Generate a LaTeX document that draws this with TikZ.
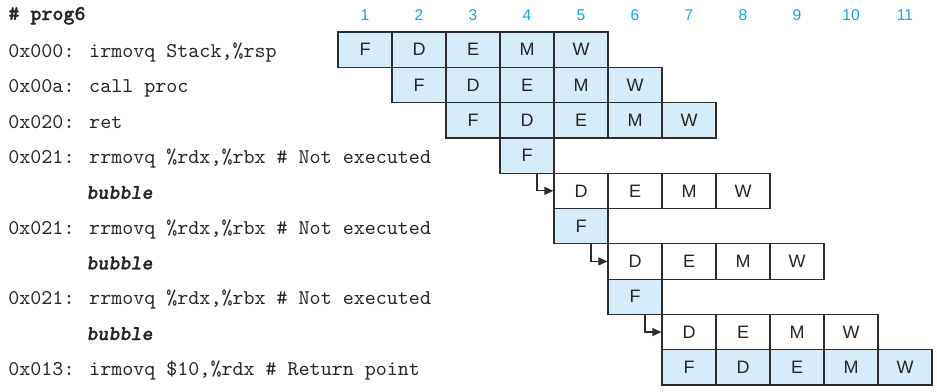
\documentclass[tikz,border=0pt]{standalone}
\usepackage{fontspec}
\setsansfont{Liberation Sans}
\newfontfamily\heavytt{lmmonolt10-bold.otf}[FakeBold=1.2]
\newfontfamily\heavyitt{lmmonolt10-boldoblique.otf}[FakeBold=1.2]
\usetikzlibrary{arrows.meta}
\definecolor{stagefill}{RGB}{214,236,249}
\definecolor{cyclecol}{RGB}{20,165,225}
\definecolor{linecol}{RGB}{45,45,45}
\tikzset{
  cell/.style={draw=linecol, line width=0.6pt, minimum width=27pt, minimum height=17.65pt,
    inner sep=0pt, font=\sffamily\fontsize{9}{10}\selectfont, text=black!85},
  bluecell/.style={cell, fill=stagefill},
  whitecell/.style={cell, fill=white},
  code/.style={anchor=base west, inner sep=0pt, font=\ttfamily\fontsize{10.5}{12}\selectfont, text=black!85},
  cyclenum/.style={anchor=base, inner sep=0pt, font=\sffamily\fontsize{7.8}{9}\selectfont, text=cyclecol},
  arr/.style={draw=linecol, line width=0.6pt, -{Triangle[length=4.5pt,width=4pt]}}
}
\newcommand\pipeRow[4]{%
  \foreach \L [count=\k] in {#4} {%
    \pgfmathtruncatemacro\cc{#2+\k-1}%
    \node[#3] (r#1c\cc) at ({338+(\cc-1)*54+27},{32+(#1-1)*35.3+17.65}) {\L};
  }%
}
\begin{document}
\begin{tikzpicture}[x=0.5pt,y=-0.5pt]
\useasboundingbox (0,0) rectangle (937,391);
% cycle numbers
\foreach \c in {1,...,11} {
  \node[cyclenum] (n\c) at ({338+(\c-1)*54+27},20) {\c};
}
% code lines
\node[code] (hdr) at (8,20) {{\heavytt\fontsize{10.5}{12}\selectfont \# prog6}};
\node[code] (t1) at (8,{32+0*35.3+17.65+8}) {0x000: irmovq Stack,\%rsp};
\node[code] (t2) at (8,{32+1*35.3+17.65+8}) {0x00a: call proc};
\node[code] (t3) at (8,{32+2*35.3+17.65+8}) {0x020: ret};
\node[code] (t4) at (8,{32+3*35.3+17.65+8}) {0x021: rrmovq \%rdx,\%rbx \# Not executed};
\node[code] (t5) at (86,{32+4*35.3+17.65+8}) {{\heavyitt\fontsize{10.5}{12}\selectfont bubble}};
\node[code] (t6) at (8,{32+5*35.3+17.65+8}) {0x021: rrmovq \%rdx,\%rbx \# Not executed};
\node[code] (t7) at (86,{32+6*35.3+17.65+8}) {{\heavyitt\fontsize{10.5}{12}\selectfont bubble}};
\node[code] (t8) at (8,{32+7*35.3+17.65+8}) {0x021: rrmovq \%rdx,\%rbx \# Not executed};
\node[code] (t9) at (86,{32+8*35.3+17.65+8}) {{\heavyitt\fontsize{10.5}{12}\selectfont bubble}};
\node[code] (t10) at (8,{32+9*35.3+17.65+8}) {0x013: irmovq \$10,\%rdx \# Return point};
% pipeline stages
\pipeRow{1}{1}{bluecell}{F,D,E,M,W}
\pipeRow{2}{2}{bluecell}{F,D,E,M,W}
\pipeRow{3}{3}{bluecell}{F,D,E,M,W}
\pipeRow{4}{4}{bluecell}{F}
\pipeRow{5}{5}{whitecell}{D,E,M,W}
\pipeRow{6}{5}{bluecell}{F}
\pipeRow{7}{6}{whitecell}{D,E,M,W}
\pipeRow{8}{6}{bluecell}{F}
\pipeRow{9}{7}{whitecell}{D,E,M,W}
\pipeRow{10}{7}{bluecell}{F,D,E,M,W}
% arrows
\draw[arr] ([xshift=5pt]r4c4.south) |- (r5c5.west);
\draw[arr] ([xshift=5pt]r6c5.south) |- (r7c6.west);
\draw[arr] ([xshift=5pt]r8c6.south) |- (r9c7.west);
\end{tikzpicture}
\end{document}
